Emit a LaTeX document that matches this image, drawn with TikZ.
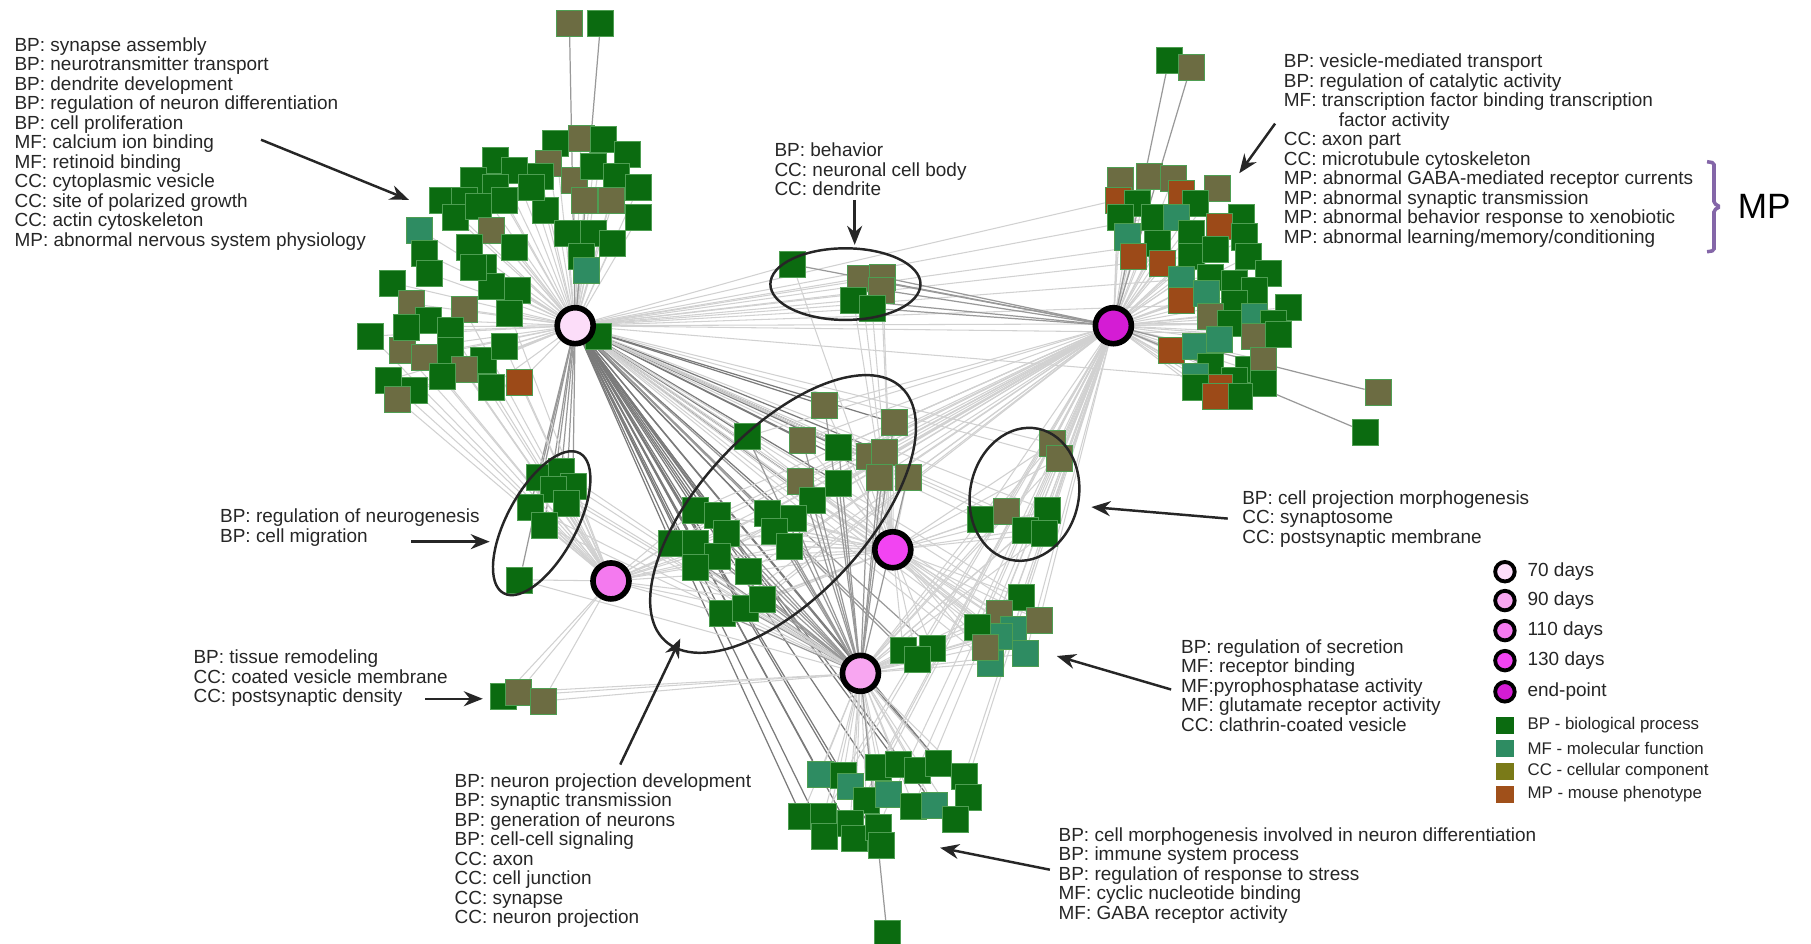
\documentclass[tikz,border=0pt]{standalone}
\usepackage{fontspec}
\setmainfont{Liberation Sans}
\usetikzlibrary{arrows.meta}
\pgfdeclarelayer{bg}
\pgfsetlayers{bg,main}
\definecolor{bp}{HTML}{0B6B10}
\definecolor{mf}{HTML}{2E8C62}
\definecolor{cc}{HTML}{6C6C42}
\definecolor{mp}{HTML}{9C4A18}
\definecolor{ccl}{HTML}{7A7A18}
\definecolor{mpl}{HTML}{A0501A}
\definecolor{sqedge}{HTML}{4E9E52}
\definecolor{d70}{HTML}{FCDDF9}
\definecolor{d90}{HTML}{F8A6F1}
\definecolor{d110}{HTML}{F47AEF}
\definecolor{d130}{HTML}{F244F2}
\definecolor{dend}{HTML}{D41CD4}
\definecolor{brk}{HTML}{8466A8}
\begin{document}
\begin{tikzpicture}[x=0.1155mm,y=-0.1155mm,
 sq/.style={rectangle, minimum size=2.6mm, inner sep=0, draw=sqedge, line width=0.15pt},
 hub/.style={circle, draw=black, line width=1.6pt, minimum size=3.6mm, inner sep=0},
 lhub/.style={circle, draw=black, line width=1.1pt, minimum size=1.95mm, inner sep=0},
 lsq/.style={rectangle, minimum size=1.75mm, inner sep=0},
 txt/.style={anchor=north west, align=left, inner sep=0, font=\fontsize{5.4}{5.55}\selectfont, text=black!85},
 ltxt/.style={anchor=west, inner sep=0, font=\fontsize{5.4}{6}\selectfont, text=black!85},
 stxt/.style={anchor=west, inner sep=0, font=\fontsize{4.8}{6}\selectfont, text=black!85},
 arr/.style={-{Stealth[length=1.9mm,width=1.5mm]}, line width=0.7pt, draw=black!85},
 ell/.style={draw=black!85, line width=0.7pt},
 e1/.style={draw=black!18, line width=0.3pt},
 e2/.style={draw=black!40, line width=0.35pt},
 e3/.style={draw=black!52, line width=0.35pt}]
\useasboundingbox (0,0) rectangle (1568,817);

% ---------- squares ----------
\foreach \n/\x/\y/\k in {at1/493/20/cc, at2/520/20/bp,
 a1/481/124/bp, a2/503/120/cc, a3/522/121/bp, a4/543/134/bp, a5/475/141/cc, a6/497/156/cc,
 a7/514/144/bp, a8/534/153/bp, a9/553/162/bp, a10/506/173/cc, a11/529/173/cc, a12/553/188/bp,
 a13/468/153/bp, a14/472/182/bp, a15/491/202/bp, a16/514/202/bp, a17/530/211/bp, a18/503/222/bp,
 a19/508/234/mf, a20/429/139/bp, a21/445/147/bp, a22/410/156/bp, a23/429/162/bp, a24/383/173/bp,
 a25/402/173/bp, a26/437/173/bp, a27/460/162/bp, a28/394/188/bp, a29/414/179/bp, a30/363/199/mf,
 a31/425/199/cc, a32/367/219/bp, a33/406/214/bp, a34/445/214/bp, a35/418/231/bp, a36/425/248/bp,
 a37/448/251/bp, a38/340/245/bp, a39/356/263/cc, a40/402/268/cc, a41/371/277/bp, a42/390/286/bp,
 a43/441/271/bp, a44/321/291/bp, a45/348/303/cc, a46/367/309/cc, a47/390/303/bp, a48/418/312/bp,
 a49/437/300/bp, a50/336/329/bp, a51/359/338/bp, a52/402/320/cc, a53/383/326/bp, a54/425/335/bp,
 a55/450/331/mp, a56/344/346/cc, a57/518/291/bp, a58/372/237/bp, a59/352/283/bp, a60/410/231/bp}
 \node[sq, fill=\k] (\n) at (\x,\y) {};

\foreach \n/\x/\y/\k in {bt1/1012/52/bp, bt2/1031/58/cc, bo1/1193/340/cc, bo2/1182/374/bp,
 b1/970/156/cc, b2/995/153/cc, b3/1016/154/cc, b4/1054/163/cc, b5/968/173/mp, b6/985/176/bp,
 b7/1023/167/mp, b8/1035/176/bp, b9/970/188/bp, b10/999/188/bp, b11/1018/188/mf, b12/1075/188/bp,
 b13/1056/196/mp, b14/976/205/mf, b15/1002/211/bp, b16/1031/202/bp, b17/1077/205/bp, b18/981/222/mp,
 b19/1006/228/mp, b20/1031/222/bp, b21/1052/216/bp, b22/1081/222/bp, b23/1098/237/bp, b24/1023/242/mf,
 b25/1048/240/bp, b26/1069/245/bp, b27/1086/251/bp, b28/1023/260/mp, b29/1044/254/mf, b30/1069/263/bp,
 b31/1115/266/bp, b32/1048/274/cc, b33/1065/280/bp, b34/1086/274/mf, b35/1102/280/bp, b36/1014/303/mp,
 b37/1035/300/mf, b38/1056/294/mf, b39/1086/291/cc, b40/1107/289/bp, b41/1048/317/bp, b42/1081/320/bp,
 b43/1035/326/mf, b44/1094/312/cc, b45/1069/329/bp, b46/1056/335/mp, b47/1035/335/bp, b48/1094/332/bp,
 b49/1073/343/bp, b50/1052/343/mp}
 \node[sq, fill=\k] (\n) at (\x,\y) {};

\foreach \n/\x/\y/\k in {c1/714/351/cc, c2/647/378/bp, c3/695/381/cc, c4/726/387/bp, c5/774/366/cc,
 c6/753/395/cc, c7/766/392/cc, c8/761/413/cc, c9/786/413/cc, c10/693/417/cc, c11/726/418/bp,
 c12/703/433/bp, c13/602/442/bp, c14/621/446/bp, c15/629/462/bp, c16/664/444/bp, c17/687/449/bp,
 c18/670/460/bp, c19/683/473/bp, c20/581/470/bp, c21/602/470/bp, c22/621/482/bp, c23/602/491/bp,
 c24/648/495/bp, c25/625/531/bp, c26/645/527/bp, c27/660/519/bp,
 l1/467/413/bp, l2/486/408/bp, l3/496/421/bp, l4/479/424/bp, l5/459/439/bp, l6/490/436/bp,
 l7/471/455/bp, l8/450/502/bp,
 r1/911/384/cc, r2/917/397/cc, r3/849/450/bp, r4/871/443/cc, r5/907/442/bp, r6/888/459/bp, r7/904/462/bp,
 t1/686/229/bp, t2/745/241/cc, t3/764/240/cc, t4/763/251/cc, t5/739/260/bp, t6/755/267/bp,
 s1/884/517/bp, s2/865/531/cc, s3/900/537/cc, s4/877/545/mf, s5/865/551/mf, s6/888/566/mf,
 s7/857/574/mf, s8/846/543/bp, s9/853/560/cc,
 m1/782/563/bp, m2/807/561/bp, m3/794/571/bp,
 u1/436/603/bp, u2/449/599/cc, u3/470/607/cc,
 d1/710/670/mf, d2/730/671/bp, d3/736/681/mf, d4/760/664/bp, d5/778/662/bp, d6/794/667/bp,
 d7/812/661/bp, d8/835/672/bp, d9/838/690/bp, d10/750/693/bp, d11/769/688/mf, d12/791/698/bp,
 d13/809/697/mf, d14/827/709/bp, d15/694/707/bp, d16/713/707/bp, d17/714/724/bp, d18/736/713/bp,
 d19/740/726/bp, d20/760/716/bp, d21/763/732/bp, d22/768/808/bp}
 \node[sq, fill=\k] (\n) at (\x,\y) {};

% ---------- hubs ----------
\node[hub, fill=d70] (h70) at (498,282) {};
\node[hub, fill=dend] (hEP) at (964,282) {};
\node[hub, fill=d110] (h110) at (529,503) {};
\node[hub, fill=d130] (h130) at (773,476) {};
\node[hub, fill=d90] (h90) at (745,583) {};

% ---------- edges ----------
\begin{pgfonlayer}{bg}
\foreach \i in {1,...,60} \draw[e1] (h70) -- (a\i);
\draw[e2] (h70) -- (at1); \draw[e2] (h70) -- (at2);
\foreach \i in {1,...,6} \draw[e1] (h70) -- (t\i);
\foreach \i in {1,...,27} \draw[e3] (h70) -- (c\i);
\foreach \i in {1,...,8} \draw[e2] (h70) -- (l\i);
\foreach \i in {1,...,7} \draw[e1] (h70) -- (r\i);
\foreach \i in {1,...,9} \draw[e1] (h70) -- (s\i);
\foreach \i in {1,...,3} \draw[e2] (h70) -- (m\i);
\foreach \i in {1,3,...,21} \draw[e3] (h70) -- (d\i);
\foreach \i in {5,10,...,45} \draw[e1] (h70) -- (b\i);
\foreach \i in {1,...,50} \draw[e1] (hEP) -- (b\i);
\draw[e2] (hEP) -- (bt1); \draw[e2] (hEP) -- (bt2);
\draw[e2] (hEP) -- (bo1); \draw[e2] (hEP) -- (bo2);
\foreach \i in {1,...,6} \draw[e2] (hEP) -- (t\i);
\foreach \i in {1,...,27} \draw[e1] (hEP) -- (c\i);
\foreach \i in {1,...,7} \draw[e1] (hEP) -- (r\i);
\foreach \i in {1,...,9} \draw[e1] (hEP) -- (s\i);
\foreach \i in {2,4,...,20} \draw[e1] (hEP) -- (d\i);
\foreach \i in {1,...,8} \draw[e1] (h110) -- (l\i);
\foreach \i in {1,...,3} \draw[e1] (h110) -- (u\i);
\foreach \i in {13,...,27} \draw[e1] (h110) -- (c\i);
\foreach \i in {40,...,56} \draw[e1] (h110) -- (a\i);
\foreach \i in {1,...,27} \draw[e1] (h130) -- (c\i);
\foreach \i in {1,...,7} \draw[e1] (h130) -- (r\i);
\foreach \i in {1,...,9} \draw[e1] (h130) -- (s\i);
\foreach \i in {1,...,3} \draw[e1] (h130) -- (m\i);
\foreach \i in {1,...,6} \draw[e1] (h130) -- (t\i);
\foreach \i in {1,...,21} \draw[e1] (h90) -- (d\i);
\draw[e2] (h90) -- (d22);
\foreach \i in {1,...,27} \draw[e2] (h90) -- (c\i);
\foreach \i in {1,...,7} \draw[e1] (h90) -- (r\i);
\foreach \i in {1,...,9} \draw[e1] (h90) -- (s\i);
\foreach \i in {1,...,3} \draw[e1] (h90) -- (m\i);
\foreach \i in {1,...,8} \draw[e1] (h90) -- (l\i);
\foreach \i in {1,...,3} \draw[e1] (h90) -- (u\i);
\end{pgfonlayer}

% ---------- ellipses ----------
\draw[ell] (732,246) ellipse [x radius=65, y radius=31];
\draw[ell, rotate around={61.5:(469,453)}] (469,453) ellipse [x radius=69, y radius=30];
\draw[ell, rotate around={47:(678,445)}] (678,445) ellipse [x radius=150, y radius=72];
\draw[ell, rotate around={78:(887,428)}] (887,428) ellipse [x radius=58, y radius=47];

% ---------- labels ----------
\node[txt] (tA) at (12,32) {BP: synapse assembly\\BP: neurotransmitter transport\\BP: dendrite development\\BP: regulation of neuron differentiation\\BP: cell proliferation\\MF: calcium ion binding\\MF: retinoid binding\\CC: cytoplasmic vesicle\\CC: site of polarized growth\\CC: actin cytoskeleton\\MP: abnormal nervous system physiology};
\node[txt] (tB) at (670,123) {BP: behavior\\CC: neuronal cell body\\CC: dendrite};
\node[txt] (tC) at (1111,46) {BP: vesicle-mediated transport\\BP: regulation of catalytic activity\\MF: transcription factor binding transcription\\\hspace*{5.5mm}factor activity\\CC: axon part\\CC: microtubule cytoskeleton\\MP: abnormal GABA-mediated receptor currents\\MP: abnormal synaptic transmission\\MP: abnormal behavior response to xenobiotic\\MP: abnormal learning/memory/conditioning};
\node[txt] (tE) at (190,440) {BP: regulation of neurogenesis\\BP: cell migration};
\node[txt] (tF) at (167,562) {BP: tissue remodeling\\CC: coated vesicle membrane\\CC: postsynaptic density};
\node[txt] (tG) at (393,669) {BP: neuron projection development\\BP: synaptic transmission\\BP: generation of neurons\\BP: cell-cell signaling\\CC: axon\\CC: cell junction\\CC: synapse\\CC: neuron projection};
\node[txt] (tH) at (1075,424) {BP: cell projection morphogenesis\\CC: synaptosome\\CC: postsynaptic membrane};
\node[txt] (tI) at (1022,553) {BP: regulation of secretion\\MF: receptor binding\\MF:pyrophosphatase activity\\MF: glutamate receptor activity\\CC: clathrin-coated vesicle};
\node[txt] (tJ) at (916,716) {BP: cell morphogenesis involved in neuron differentiation\\BP: immune system process\\BP: regulation of response to stress\\MF: cyclic nucleotide binding\\MF: GABA receptor activity};

% bracket
\draw[brk, line width=1pt, rounded corners=0.5pt] (1478,140) -- (1484,141) -- (1484,176) -- (1489,179) -- (1484,182) -- (1484,217) -- (1478,218);
\node[anchor=west, inner sep=0, font=\fontsize{10}{12}\selectfont, text=black] (mplab) at (1504,179) {MP};

% ---------- arrows ----------
\coordinate (p1s) at (226,121); \coordinate (p1e) at (354,173);
\coordinate (p2s) at (740,173); \coordinate (p2e) at (740,212);
\coordinate (p3s) at (1104,107); \coordinate (p3e) at (1073,150);
\coordinate (p4s) at (356,469); \coordinate (p4e) at (424,469);
\coordinate (p5s) at (1063,449); \coordinate (p5e) at (945,439);
\coordinate (p6s) at (368,605); \coordinate (p6e) at (418,605);
\coordinate (p7s) at (537,662); \coordinate (p7e) at (589,553);
\coordinate (p8s) at (1014,597); \coordinate (p8e) at (915,568);
\coordinate (p9s) at (909,753); \coordinate (p9e) at (814,734);
\foreach \i in {1,...,9} \draw[arr] (p\i s) -- (p\i e);

% ---------- legend ----------
\node[lhub, fill=d70] (k1) at (1303,495) {};
\node[lhub, fill=d90] (k2) at (1303,520) {};
\node[lhub, fill=d110] (k3) at (1303,546) {};
\node[lhub, fill=d130] (k4) at (1303,572) {};
\node[lhub, fill=dend] (k5) at (1303,599) {};
\node[ltxt] (kt1) at (1322,495) {70 days};
\node[ltxt] (kt2) at (1322,520) {90 days};
\node[ltxt] (kt3) at (1322,546) {110 days};
\node[ltxt] (kt4) at (1322,572) {130 days};
\node[ltxt] (kt5) at (1322,599) {end-point};
\node[lsq, fill=bp] (q1) at (1303,628) {};
\node[lsq, fill=mf] (q2) at (1303,648) {};
\node[lsq, fill=ccl] (q3) at (1303,668) {};
\node[lsq, fill=mpl] (q4) at (1303,688) {};
\node[stxt] (qt1) at (1322,628) {BP - biological process};
\node[stxt] (qt2) at (1322,648) {MF - molecular function};
\node[stxt] (qt3) at (1322,668) {CC - cellular component};
\node[stxt] (qt4) at (1322,688) {MP - mouse phenotype};
\end{tikzpicture}
\end{document}
